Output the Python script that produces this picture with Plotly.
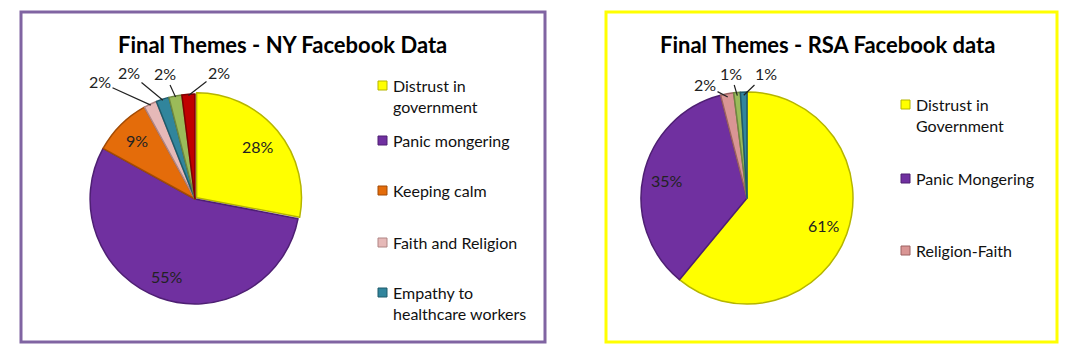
import math
import plotly.graph_objects as go

# ---- data ----
ny_labels = ["Distrust in government", "Panic mongering", "Keeping calm",
             "Faith and Religion", "Empathy to healthcare workers", "Other (green)", "Other (red)"]
ny_values = [28, 55, 9, 2, 2, 2, 2]
ny_legend = ["Distrust in<br>government", "Panic mongering", "Keeping calm",
             "Faith and Religion", "Empathy to<br>healthcare workers"]

rsa_labels = ["Distrust in Government", "Panic Mongering", "Religion-Faith", "Other (green)", "Other (teal)"]
rsa_values = [61, 35, 2, 1, 1]
rsa_legend = ["Distrust in<br>Government", "Panic Mongering", "Religion-Faith"]

ny_colors = ["#FFFF00", "#7030A0", "#E46C0A", "#E6B9B8", "#31859C", "#9BBB59", "#C00000"]
ny_lines = ["#B5B500", "#4E1F73", "#A24B05", "#B08584", "#1F5A6A", "#6E8840", "#800000"]
rsa_colors = ["#FFFF00", "#7030A0", "#D99594", "#9BBB59", "#31859C"]
rsa_lines = ["#B5B500", "#4E1F73", "#9C6160", "#6E8840", "#1F5A6A"]

W, H = 1072, 357
FONT = "Lato"


def px(x):
    return x / W


def py(y):
    return 1 - y / H


fig = go.Figure()

# pie geometry (pixels): centre and radius
NY_C, NY_R = (195, 199), 107
RSA_C, RSA_R = (747, 198), 106

fig.add_trace(go.Pie(
    labels=ny_labels, values=ny_values, sort=False, direction="clockwise", rotation=0,
    marker=dict(colors=ny_colors, line=dict(color=ny_lines, width=1.5)),
    pull=[0.02, 0, 0, 0, 0, 0, 0],
    textinfo="none",
    domain=dict(x=[px(NY_C[0] - NY_R), px(NY_C[0] + NY_R)],
                y=[py(NY_C[1] + NY_R), py(NY_C[1] - NY_R)]),
    showlegend=False, hoverinfo="label+percent",
))

fig.add_trace(go.Pie(
    labels=rsa_labels, values=rsa_values, sort=False, direction="clockwise", rotation=0,
    marker=dict(colors=rsa_colors, line=dict(color=rsa_lines, width=1.5)),
    textinfo="none",
    domain=dict(x=[px(RSA_C[0] - RSA_R), px(RSA_C[0] + RSA_R)],
                y=[py(RSA_C[1] + RSA_R), py(RSA_C[1] - RSA_R)]),
    showlegend=False, hoverinfo="label+percent",
))

shapes = [
    dict(type="rect", xref="paper", yref="paper", x0=px(21), x1=px(545), y0=py(342), y1=py(12),
         line=dict(color="#8064A2", width=3), fillcolor="rgba(0,0,0,0)"),
    dict(type="rect", xref="paper", yref="paper", x0=px(606), x1=px(1057), y0=py(342), y1=py(12),
         line=dict(color="#FFFF00", width=3), fillcolor="rgba(0,0,0,0)"),
]
annotations = [
    dict(text="<b>Final Themes - NY Facebook Data</b>", x=px(282), y=py(44), xref="paper", yref="paper",
         xanchor="center", yanchor="middle",
         showarrow=False, font=dict(family=FONT, size=22, color="#000000")),
    dict(text="<b>Final Themes - RSA Facebook data</b>", x=px(827), y=py(44), xref="paper", yref="paper",
         xanchor="center", yanchor="middle",
         showarrow=False, font=dict(family=FONT, size=22, color="#000000")),
]


def mid_angles(values):
    total = float(sum(values))
    cum = 0.0
    out = []
    for v in values:
        out.append((cum + v / 2.0) / total * 2 * math.pi)
        cum += v
    return out


def inside_labels(values, n_big, centre, radius):
    out = []
    for v, a in list(zip(values, mid_angles(values)))[:n_big]:
        tx = centre[0] + 0.77 * radius * math.sin(a)
        ty = centre[1] - 0.77 * radius * math.cos(a)
        out.append(dict(text=f"{v}%", x=px(tx), y=py(ty), xref="paper", yref="paper",
                        xanchor="center", yanchor="middle", showarrow=False,
                        font=dict(family=FONT, size=16, color="#222222")))
    return out


def small_labels(values, first_small, centre, radius, label_pos):
    """Outside labels with leader lines for the small slices (angles from data)."""
    out = []
    for v, a, (lx, ly) in zip(values[first_small:], mid_angles(values)[first_small:], label_pos):
        tx = centre[0] + 0.97 * radius * math.sin(a)
        ty = centre[1] - 0.97 * radius * math.cos(a)
        out.append(dict(text=f"{v}%", x=px(tx), y=py(ty), xref="paper", yref="paper",
                        ax=lx - tx, ay=ly - ty, showarrow=True, arrowhead=0,
                        arrowwidth=1.2, arrowcolor="#222222", standoff=0,
                        font=dict(family=FONT, size=16, color="#222222")))
    return out


annotations += inside_labels(ny_values, 3, NY_C, NY_R)
annotations += inside_labels(rsa_values, 2, RSA_C, RSA_R)
annotations += small_labels(ny_values, 3, NY_C, NY_R, [(100, 82), (129, 72), (165, 74), (219, 72)])
annotations += small_labels(rsa_values, 2, RSA_C, RSA_R, [(705, 85), (731, 74), (766, 74)])

# manual legends
ny_leg_y = [85, 140, 190, 242, 292]
for i, (lab, yy) in enumerate(zip(ny_legend, ny_leg_y)):
    shapes.append(dict(type="rect", xref="paper", yref="paper", x0=px(378), x1=px(387),
                       y0=py(yy + 5), y1=py(yy - 4), fillcolor=ny_colors[i],
                       line=dict(color=ny_lines[i], width=1)))
    annotations.append(dict(text=lab, x=px(391), y=py(yy - 11), xref="paper", yref="paper",
                            xanchor="left", yanchor="top", align="left", showarrow=False,
                            font=dict(family=FONT, size=16, color="#111111")))

rsa_leg_y = [104, 178, 250]
for i, (lab, yy) in enumerate(zip(rsa_legend, rsa_leg_y)):
    shapes.append(dict(type="rect", xref="paper", yref="paper", x0=px(901), x1=px(910),
                       y0=py(yy + 5), y1=py(yy - 4), fillcolor=rsa_colors[i],
                       line=dict(color=rsa_lines[i], width=1)))
    annotations.append(dict(text=lab, x=px(914), y=py(yy - 11), xref="paper", yref="paper",
                            xanchor="left", yanchor="top", align="left", showarrow=False,
                            font=dict(family=FONT, size=16, color="#111111")))

fig.update_layout(
    width=W, height=H, margin=dict(l=0, r=0, t=0, b=0),
    paper_bgcolor="white", plot_bgcolor="white",
    shapes=shapes, annotations=annotations,
    font=dict(family=FONT),
)

fig.write_html("out.html", config={"displayModeBar": False},
               post_script="document.body.style.margin='0';")
